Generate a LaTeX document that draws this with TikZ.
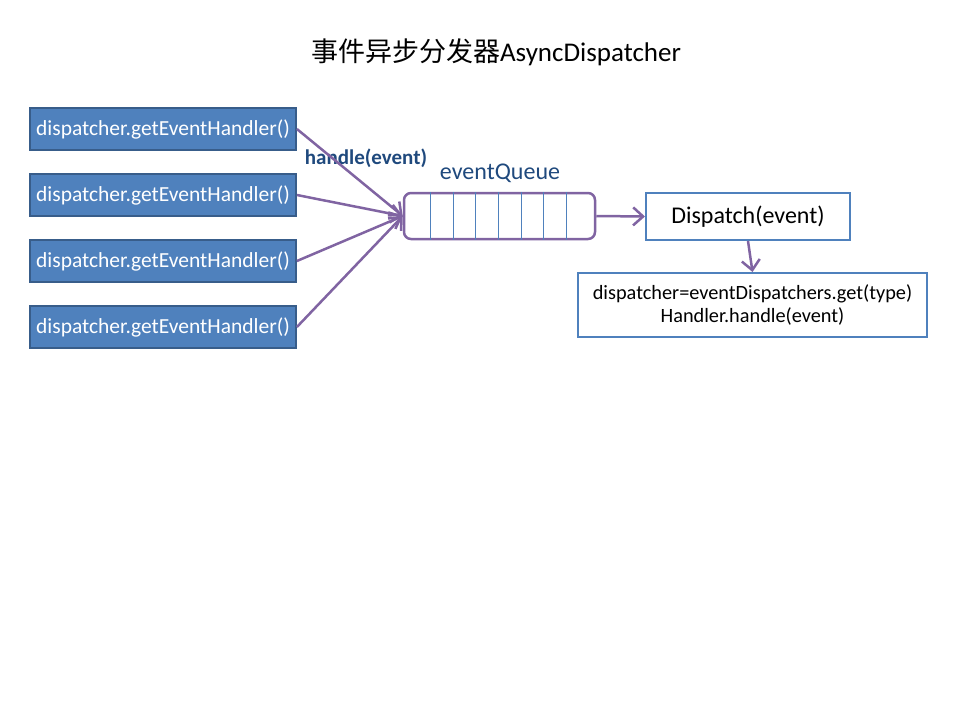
\documentclass[tikz,border=0pt]{standalone}
\usepackage{fontspec}
\setmainfont{Carlito}
\newfontfamily\cjk{Noto Sans CJK SC}
\usetikzlibrary{arrows.meta,positioning}
\definecolor{boxblue}{HTML}{4F81BD}
\definecolor{boxedge}{HTML}{385D8A}
\definecolor{flowpurple}{HTML}{8064A2}
\definecolor{labelblue}{HTML}{1F497D}
\begin{document}
\begin{tikzpicture}[x=1pt, y=-1pt,
    every node/.style={inner sep=0pt, font=\fontsize{21.5}{25}\selectfont},
    handlerbox/.style={draw=boxedge, fill=boxblue, line width=1.8pt, text=white,
        minimum width=266, minimum height=42},
    queuebox/.style={draw=flowpurple, line width=2.5pt, rounded corners=7pt,
        minimum width=191, minimum height=46},
    whitebox/.style={draw=boxblue, fill=white, line width=2pt, align=center},
    flow/.style={draw=flowpurple, line width=2.5pt,
        -{Straight Barb[length=10pt, width=18pt, line width=2.5pt]}}
]
\useasboundingbox (0,0) rectangle (960,720);

% title
\node (title) at (496,52) {\fontsize{27}{31}\selectfont{\cjk 事件异步分发器}AsyncDispatcher};

% event sources
\node[handlerbox] (handler1) at (163,129) {dispatcher.getEventHandler()};
\node[handlerbox] (handler2) at (163,195) {dispatcher.getEventHandler()};
\node[handlerbox] (handler3) at (163,261) {dispatcher.getEventHandler()};
\node[handlerbox] (handler4) at (163,327) {dispatcher.getEventHandler()};

% queue
\node[queuebox] (queue) at (499.5,216) {};
\foreach \i in {0,...,6}
    \draw[boxblue, line width=0.7pt]
        ([xshift=27.7+\i*22.67]queue.north west) -- ([xshift=27.7+\i*22.67]queue.south west);
\node[text=labelblue, font=\fontsize{24}{28}\selectfont] (queuelabel) at (500,173) {eventQueue};
\node[text=labelblue, font=\bfseries\fontsize{21}{24}\selectfont] (handlelabel) at (366,158) {handle(event)};

% dispatching
\node[whitebox, minimum width=204, minimum height=47, font=\fontsize{24}{28}\selectfont] (dispatch) at (748,216.5) {Dispatch(event)};
\node[whitebox, minimum width=349, minimum height=64, font=\fontsize{20.3}{23}\selectfont] (lookup) at (752.5,305)
    {dispatcher=eventDispatchers.get(type)\\Handler.handle(event)};

\draw[flow] (handler1.east) -- (queue.west);
\draw[flow] (handler2.east) -- (queue.west);
\draw[flow] (handler3.east) -- (queue.west);
\draw[flow] (handler4.east) -- (queue.west);
\draw[flow] (queue.east) -- (dispatch.west);
\draw[flow] (dispatch.south) -- (lookup.north);
\end{tikzpicture}
\end{document}
